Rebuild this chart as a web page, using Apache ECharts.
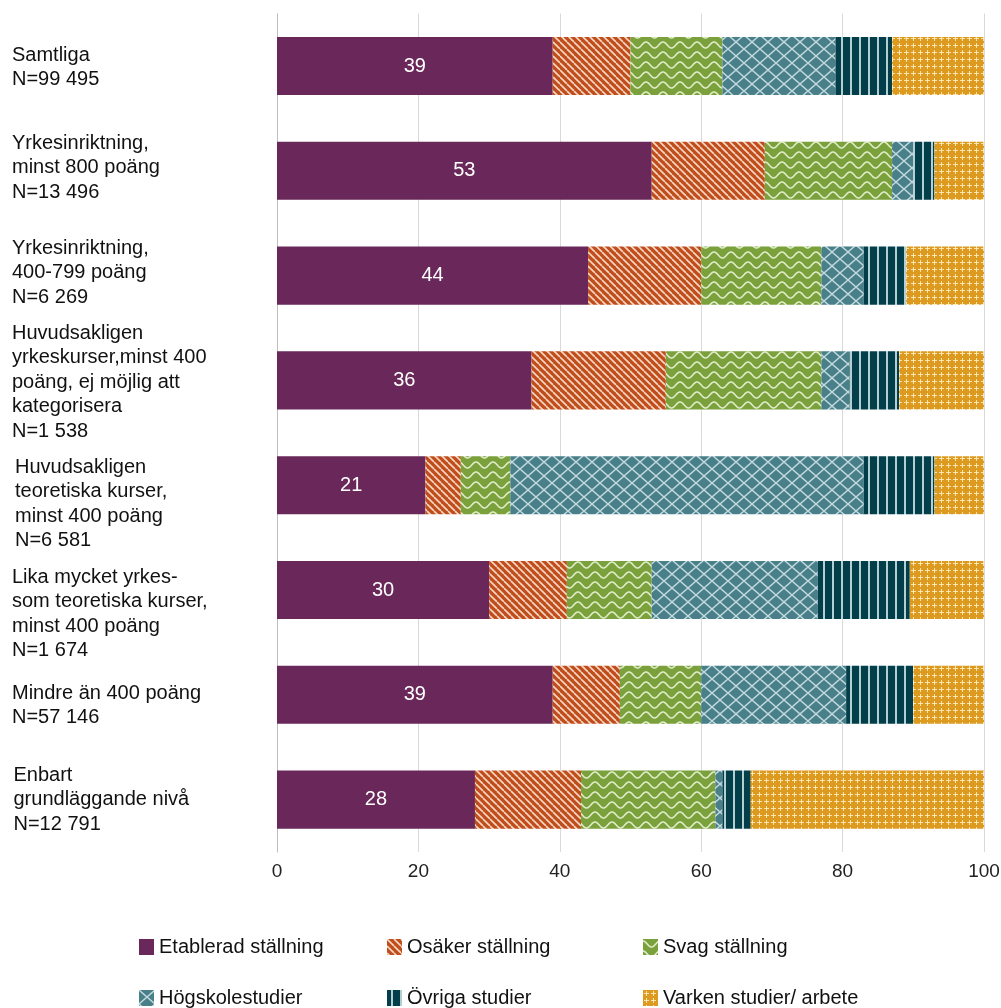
<!DOCTYPE html>
<html>
<head>
<meta charset="utf-8">
<script src="https://cdn.jsdelivr.net/npm/echarts@6/dist/echarts.min.js"></script>
<style>
html,body{margin:0;padding:0;background:#fff;}
#chart{width:1001px;height:1008px;}
</style>
</head>
<body>
<div id="chart"></div>
<script>
// ---- data ----
const categories = [
  'Samtliga\nN=99 495',
  'Yrkesinriktning,\nminst 800 poäng\nN=13 496',
  'Yrkesinriktning,\n400-799 poäng\nN=6 269',
  'Huvudsakligen\nyrkeskurser,minst 400\npoäng, ej möjlig att\nkategorisera\nN=1 538',
  'Huvudsakligen\nteoretiska kurser,\nminst 400 poäng\nN=6 581',
  'Lika mycket yrkes-\nsom teoretiska kurser,\nminst 400 poäng\nN=1 674',
  'Mindre än 400 poäng\nN=57 146',
  'Enbart\ngrundläggande nivå\nN=12 791'
];
const seriesNames = ['Etablerad ställning','Osäker ställning','Svag ställning','Högskolestudier','Övriga studier','Varken studier/ arbete'];
const etablerad = [39, 53, 44, 36, 21, 30, 39, 28];
const osaker    = [11, 16, 16, 19, 5, 11, 9.5, 15];
const svag      = [13, 18, 17, 22, 7, 12, 11.5, 19];
const hogskole  = [16, 3, 6, 4, 50, 23.5, 20.5, 1];
const ovriga    = [8, 3, 6, 7, 10, 13, 9.5, 4];
const varken    = [13, 7, 11, 12, 7, 10.5, 10, 33];
const xTicks = [0, 20, 40, 60, 80, 100];

// ---- styling ----
const FONT = 'Liberation Sans, Arial, sans-serif';
function pattern(w, h, bg, draw) {
  const c = document.createElement('canvas');
  c.width = w; c.height = h;
  const ctx = c.getContext('2d');
  ctx.fillStyle = bg; ctx.fillRect(0, 0, w, h);
  draw(ctx, w, h);
  return { image: c, repeat: 'repeat' };
}
const purple = '#692859';
const orangeP = pattern(7, 7, '#c04e1d', (ctx, w, h) => {
  ctx.strokeStyle = 'rgba(255,232,215,0.9)'; ctx.lineWidth = 1.6;
  for (let k = -1; k <= 1; k++) { ctx.beginPath(); ctx.moveTo(k * w, 0); ctx.lineTo(k * w + w, h); ctx.stroke(); }
});
const greenP = pattern(17, 10, '#7aa13c', (ctx, w, h) => {
  ctx.strokeStyle = 'rgba(235,245,215,0.9)'; ctx.lineWidth = 1.6;
  ctx.beginPath();
  for (let x = 0; x <= w; x += 0.5) { const y = 5 - 3 * Math.cos(2 * Math.PI * x / w); if (x === 0) ctx.moveTo(x, y); else ctx.lineTo(x, y); }
  ctx.stroke();
});
const tealP = pattern(16, 14, '#487f89', (ctx, w, h) => {
  ctx.strokeStyle = 'rgba(215,233,236,0.85)'; ctx.lineWidth = 1.4;
  ctx.beginPath(); ctx.moveTo(0, 0); ctx.lineTo(w, h); ctx.moveTo(w, 0); ctx.lineTo(0, h); ctx.stroke();
});
const darkP = pattern(9, 2, '#033f4b', (ctx, w, h) => {
  ctx.fillStyle = '#b3cfd2'; ctx.fillRect(4, 0, 2, h);
});
const goldP = pattern(7, 7, '#dc9b20', (ctx, w, h) => {
  ctx.fillStyle = 'rgba(255,238,195,0.85)';
  ctx.fillRect(3, 1, 1, 5); ctx.fillRect(1, 3, 5, 1);
});
const fills = [purple, orangeP, greenP, tealP, darkP, goldP];
const values = [etablerad, osaker, svag, hogskole, ovriga, varken];

// per-label text offsets (vertical shift in px, left pad in px)
const labelShift = [1.5, -3, -3, 2, 19, 24, 10.5, 0];
const labelLeft = [0, 0, 0, 0, 3, 0, 0, 1.5];

const rich = {};
categories.forEach((c, i) => {
  rich['t' + i] = { fontSize: 20, lineHeight: 24.5, color: '#111', fontFamily: FONT, padding: [0, 0, 0, labelLeft[i]] };
  const s = Math.abs(labelShift[i]) * 2;
  if (s > 0) rich['sp' + i] = { fontSize: 1, lineHeight: s, height: s };
});

function labelFormatter(value, index) {
  const lines = value.split('\n').map(l => '{t' + index + '|' + l + '}');
  const s = labelShift[index];
  if (s > 0) lines.unshift('{sp' + index + '|\u00a0}');
  else if (s < 0) lines.push('{sp' + index + '|\u00a0}');
  return lines.join('\n');
}

const legendPos = [[139, 937], [387, 937], [643, 937], [139, 988], [387, 988], [643, 988]];

const chart = echarts.init(document.getElementById('chart'), null, { renderer: 'canvas' });
chart.setOption({
  animation: false,
  backgroundColor: '#ffffff',
  textStyle: { fontFamily: FONT },
  grid: { left: 277, right: 17, top: 13.6, bottom: 156, containLabel: false, outerBoundsMode: 'none' },
  xAxis: {
    type: 'value', min: 0, max: 100, interval: 20,
    axisLine: { show: false }, axisTick: { show: false },
    splitLine: { lineStyle: { color: '#d9d9d9', width: 1 } },
    axisLabel: { fontSize: 19, color: '#222', margin: 10, fontFamily: FONT,
      formatter: v => xTicks.includes(v) ? String(v) : '' }
  },
  yAxis: {
    type: 'category', inverse: true, data: categories,
    axisLine: { show: true, lineStyle: { color: '#bfbfbf' } },
    axisTick: { show: false },
    axisLabel: { align: 'left', verticalAlign: 'middle', margin: 265, fontSize: 20, lineHeight: 24.5,
      color: '#111', fontFamily: FONT, formatter: labelFormatter, rich }
  },
  legend: legendPos.map((p, i) => ({
    data: [seriesNames[i]], left: p[0], top: p[1], padding: 0,
    icon: 'rect', itemWidth: 15, itemHeight: 16, selectedMode: false,
    textStyle: { fontSize: 20, color: '#111', fontFamily: FONT }
  })),
  series: seriesNames.map((name, i) => ({
    name, type: 'bar', stack: 'total', data: values[i],
    barCategoryGap: '44.6%',
    itemStyle: { color: fills[i] },
    label: i === 0 ? { show: true, position: 'inside', color: '#fff', fontSize: 20, fontFamily: FONT,
      formatter: p => Math.round(p.value) } : { show: false }
  }))
});
</script>
</body>
</html>
